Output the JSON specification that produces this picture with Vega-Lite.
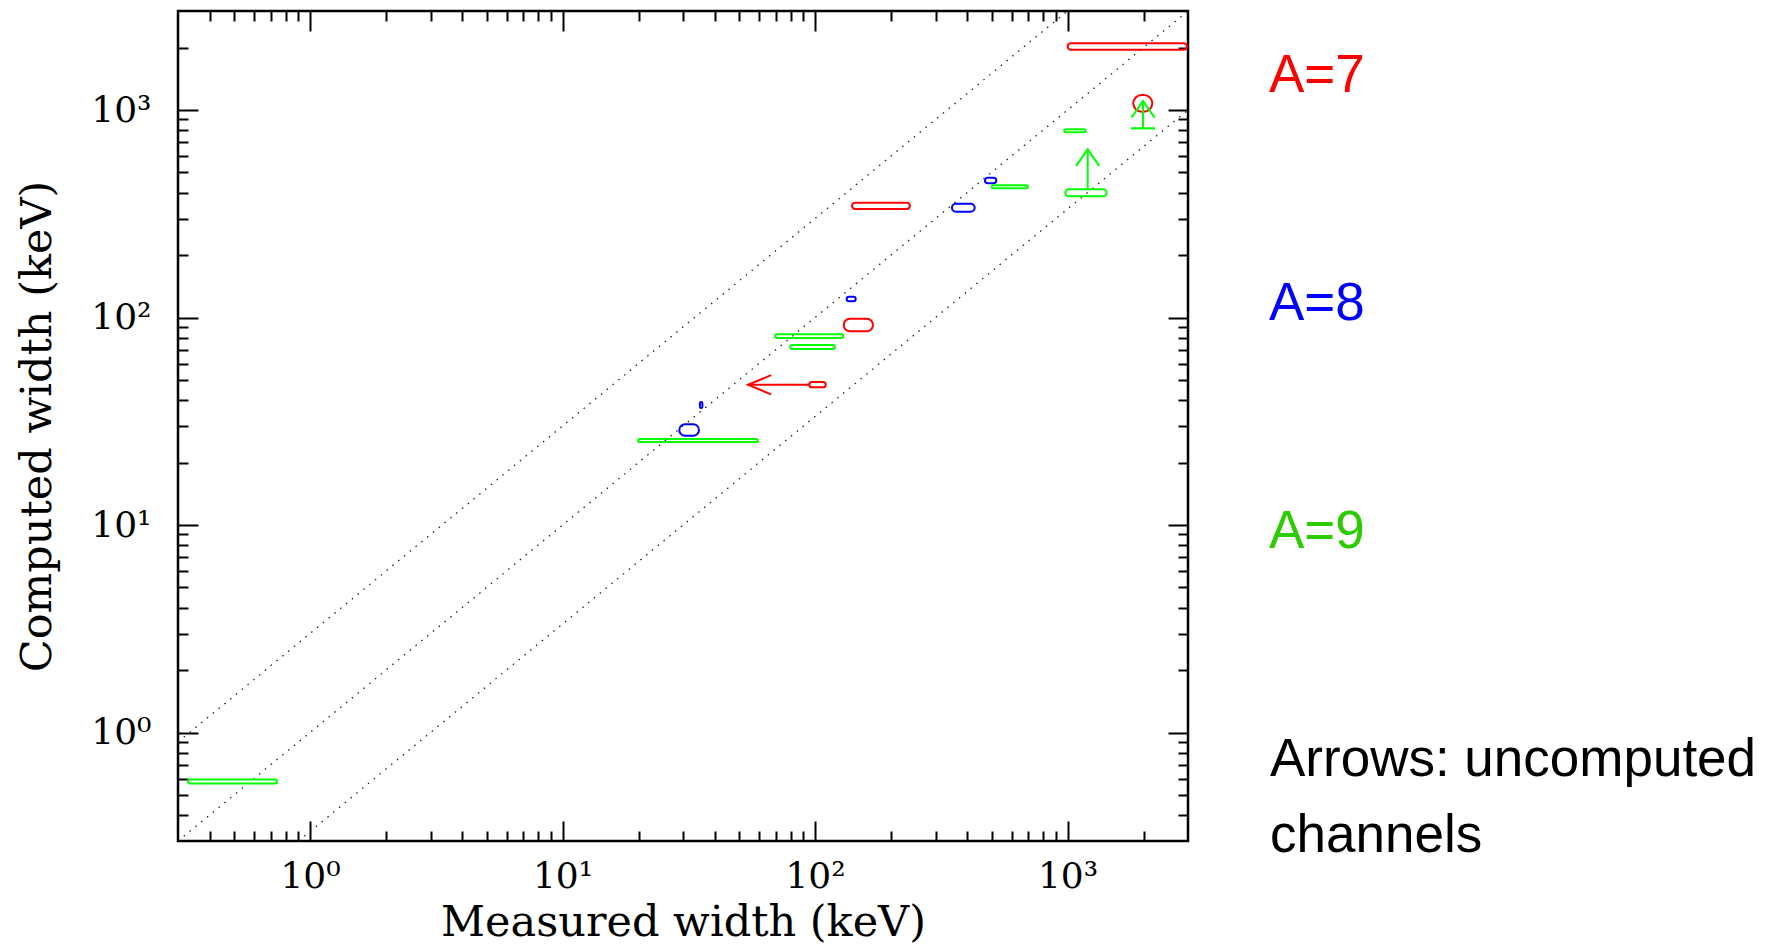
{
  "$schema": "https://vega.github.io/schema/vega-lite/v6.json",
  "width": 1010,
  "height": 830,
  "autosize": {"type": "none"},
  "padding": {"left": 178, "top": 11, "right": 587, "bottom": 104},
  "background": "white",
  "config": {
    "view": {"stroke": "black", "strokeWidth": 2.5},
    "axis": {
      "grid": false,
      "domain": false,
      "tickColor": "black",
      "tickWidth": 2,
      "labelColor": "black",
      "labelFont": "DejaVu Serif",
      "labelFontSize": 36,
      "titleFont": "DejaVu Serif",
      "titleFontSize": 43,
      "titleFontWeight": "normal",
      "titleColor": "black"
    }
  },
  "datasets": {
    "ellipses": [
      {"A": 9, "xlo": 0.329, "xhi": 0.740, "ylo": 0.568, "yhi": 0.594},
      {"A": 9, "xlo": 19.95, "xhi": 59.4, "ylo": 25.1, "yhi": 26.0},
      {"A": 8, "xlo": 29.0, "xhi": 34.7, "ylo": 26.9, "yhi": 30.6},
      {"A": 8, "xlo": 35.0, "xhi": 35.8, "ylo": 36.6, "yhi": 39.2},
      {"A": 7, "xlo": 94.9, "xhi": 110.2, "ylo": 46.1, "yhi": 48.9},
      {"A": 8, "xlo": 133.5, "xhi": 144.9, "ylo": 119.7, "yhi": 125.9},
      {"A": 7, "xlo": 129.9, "xhi": 169.6, "ylo": 85.8, "yhi": 98.7},
      {"A": 9, "xlo": 69.6, "xhi": 129.4, "ylo": 79.7, "yhi": 83.0},
      {"A": 9, "xlo": 79.8, "xhi": 119.9, "ylo": 70.5, "yhi": 73.7},
      {"A": 7, "xlo": 140.1, "xhi": 237.7, "ylo": 333.3, "yhi": 357.4},
      {"A": 8, "xlo": 348.6, "xhi": 428.8, "ylo": 323.5, "yhi": 353.4},
      {"A": 8, "xlo": 471.0, "xhi": 522.2, "ylo": 443.2, "yhi": 471.6},
      {"A": 9, "xlo": 500.8, "xhi": 697.0, "ylo": 419.3, "yhi": 433.5},
      {"A": 9, "xlo": 970.7, "xhi": 1180, "ylo": 780.6, "yhi": 807.1},
      {"A": 9, "xlo": 979.7, "xhi": 1429, "ylo": 383.7, "yhi": 414.7},
      {"A": 7, "xlo": 1821, "xhi": 2166, "ylo": 981, "yhi": 1181},
      {"A": 7, "xlo": 1001, "xhi": 2972, "ylo": 1952, "yhi": 2096}
    ],
    "arrows": [
      {"A": 7, "dir": "left", "bar": false, "x_from": 94.9, "x_to": 54.3, "y_from": 47.4, "y_to": 47.4},
      {"A": 9, "dir": "up", "bar": false, "x_from": 1202, "x_to": 1202, "y_from": 419.3, "y_to": 646.5},
      {"A": 9, "dir": "up", "bar": true, "x_from": 1990, "x_to": 1990, "y_from": 816, "y_to": 1105}
    ],
    "diagonals": [
      {"line": "y=3x", "x": 0.3, "y": 0.9},
      {"line": "y=3x", "x": 1000, "y": 3000},
      {"line": "y=x", "x": 0.3, "y": 0.3},
      {"line": "y=x", "x": 3000, "y": 3000},
      {"line": "y=x/3", "x": 0.9, "y": 0.3},
      {"line": "y=x/3", "x": 3000, "y": 1000}
    ]
  },
  "resolve": {"axis": {"x": "independent", "y": "independent"}},
  "layer": [
    {
      "data": {"name": "diagonals"},
      "mark": {"type": "line", "stroke": "#222222", "strokeWidth": 1.3, "strokeDash": [1.5, 6], "clip": true},
      "encoding": {
        "x": {
          "field": "x", "type": "quantitative",
          "scale": {"type": "log", "domain": [0.3, 3000], "nice": false},
          "axis": {"orient": "bottom", "values": [0.4,0.5,0.6,0.7,0.8,0.9,2,3,4,5,6,7,8,9,20,30,40,50,60,70,80,90,200,300,400,500,600,700,800,900,2000], "tickSize": -10, "labels": false, "title": null}
        },
        "y": {
          "field": "y", "type": "quantitative",
          "scale": {"type": "log", "domain": [0.3, 3000], "nice": false},
          "axis": {"orient": "left", "values": [0.4,0.5,0.6,0.7,0.8,0.9,2,3,4,5,6,7,8,9,20,30,40,50,60,70,80,90,200,300,400,500,600,700,800,900,2000], "tickSize": -10, "labels": false, "title": null}
        },
        "detail": {"field": "line", "type": "nominal"}
      }
    },
    {
      "data": {"name": "ellipses"},
      "mark": {"type": "rect", "filled": false, "strokeWidth": 2, "cornerRadius": 500, "opacity": 1},
      "encoding": {
        "x": {
          "field": "xlo", "type": "quantitative",
          "scale": {"type": "log", "domain": [0.3, 3000], "nice": false},
          "axis": {"orient": "bottom", "values": [1, 10, 100, 1000], "tickSize": -20, "labelPadding": 38, "labelFlush": false, "labelOverlap": false,
                   "labelExpr": "datum.value == 1 ? '10⁰' : datum.value == 10 ? '10¹' : datum.value == 100 ? '10²' : '10³'",
                   "title": "Measured width (keV)", "titlePadding": 7}
        },
        "x2": {"field": "xhi"},
        "y": {
          "field": "ylo", "type": "quantitative",
          "scale": {"type": "log", "domain": [0.3, 3000], "nice": false},
          "axis": {"orient": "left", "values": [1, 10, 100, 1000], "tickSize": -20, "labelPadding": 47, "labelFlush": false, "labelOverlap": false,
                   "labelExpr": "datum.value == 1 ? '10⁰' : datum.value == 10 ? '10¹' : datum.value == 100 ? '10²' : '10³'",
                   "title": "Computed width (keV)", "titlePadding": 31}
        },
        "y2": {"field": "yhi"},
        "color": {
          "field": "A", "type": "nominal",
          "scale": {"domain": [7, 8, 9], "range": ["#ff0000", "#0000ff", "#00ff00"]},
          "legend": {
            "orient": "none", "legendX": 1092, "legendY": 38,
            "direction": "vertical",
            "padding": 0,
            "labelExpr": "'A=' + datum.label",
            "labelFont": "Liberation Sans", "labelFontSize": 53, "labelLimit": 600, "labelOffset": -54,
            "symbolSize": 0, "symbolOpacity": 0, "symbolStrokeWidth": 0,
            "rowPadding": 174,
            "title": ["Arrows: uncomputed", "channels"],
            "titleOrient": "bottom", "titleFont": "Liberation Sans", "titleFontSize": 53, "titleFontWeight": "normal",
            "titleColor": "black", "titleLineHeight": 76, "titlePadding": 175, "titleLimit": 1000, "titleAnchor": "start",
            "encode": {"labels": {"update": {"fill": {"signal": "datum.value == 7 ? '#ff0000' : datum.value == 8 ? '#0000ff' : '#2ccc00'"}}}}
          }
        }
      }
    },
    {
      "data": {"name": "arrows"},
      "mark": {"type": "rule", "strokeWidth": 2, "opacity": 1},
      "encoding": {
        "x": {
          "field": "x_from", "type": "quantitative",
          "scale": {"type": "log", "domain": [0.3, 3000], "nice": false},
          "axis": {"orient": "top", "values": [1, 10, 100, 1000], "tickSize": -20, "labels": false, "title": null}
        },
        "x2": {"field": "x_to"},
        "y": {
          "field": "y_from", "type": "quantitative",
          "scale": {"type": "log", "domain": [0.3, 3000], "nice": false},
          "axis": {"orient": "right", "values": [1, 10, 100, 1000], "tickSize": -20, "labels": false, "title": null}
        },
        "y2": {"field": "y_to"},
        "color": {"field": "A", "type": "nominal"}
      }
    },
    {
      "data": {"name": "arrows"},
      "mark": {"type": "point", "filled": false, "strokeWidth": 2, "size": 1600, "opacity": 1},
      "encoding": {
        "x": {
          "field": "x_to", "type": "quantitative",
          "scale": {"type": "log", "domain": [0.3, 3000], "nice": false},
          "axis": {"orient": "top", "values": [0.4,0.5,0.6,0.7,0.8,0.9,2,3,4,5,6,7,8,9,20,30,40,50,60,70,80,90,200,300,400,500,600,700,800,900,2000], "tickSize": -10, "labels": false, "title": null}
        },
        "y": {
          "field": "y_to", "type": "quantitative",
          "scale": {"type": "log", "domain": [0.3, 3000], "nice": false},
          "axis": {"orient": "right", "values": [0.4,0.5,0.6,0.7,0.8,0.9,2,3,4,5,6,7,8,9,20,30,40,50,60,70,80,90,200,300,400,500,600,700,800,900,2000], "tickSize": -10, "labels": false, "title": null}
        },
        "shape": {
          "field": "dir", "type": "nominal",
          "scale": {"domain": ["left", "up"], "range": ["M1.15,-0.48L0,0L1.15,0.48", "M-0.58,0.83L0,0L0.58,0.83"]},
          "legend": null
        },
        "color": {"field": "A", "type": "nominal"}
      }
    },
    {
      "data": {"name": "arrows"},
      "transform": [{"filter": "datum.bar"}],
      "mark": {"type": "tick", "orient": "horizontal", "size": 24, "thickness": 2.2, "opacity": 1},
      "encoding": {
        "x": {"field": "x_from", "type": "quantitative", "scale": {"type": "log", "domain": [0.3, 3000], "nice": false}, "axis": null},
        "y": {"field": "y_from", "type": "quantitative", "scale": {"type": "log", "domain": [0.3, 3000], "nice": false}, "axis": null},
        "color": {"field": "A", "type": "nominal"}
      }
    }
  ]
}
